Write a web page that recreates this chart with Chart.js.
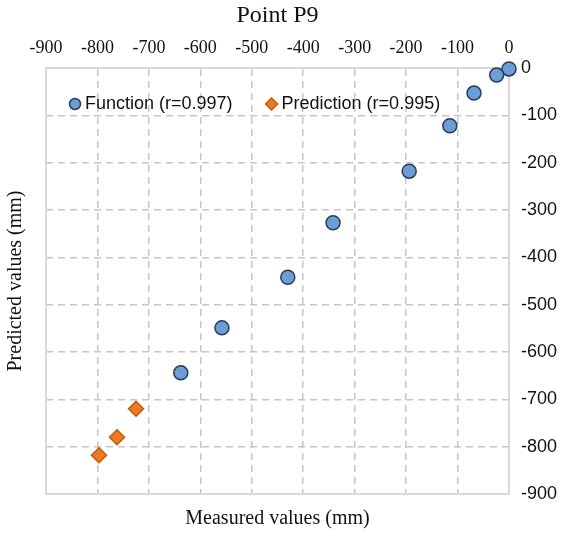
<!DOCTYPE html>
<html lang="en">
<head>
  <meta charset="UTF-8" />
  <title>Point P9</title>
  <script src="https://cdn.jsdelivr.net/npm/chart.js"></script>
  <style>
    html, body { margin: 0; padding: 0; background: #fff; }
    #wrap { width: 564px; height: 536px; }
  </style>
</head>
<body>
  <div id="wrap"><canvas id="p9Chart"></canvas></div>

  <script>
    // values (mm)
    const funcMeasured  = [0, -24, -68, -115, -194, -342, -430, -558, -638];
    const funcPredicted = [-2, -15, -53, -122, -218, -327, -442, -549, -644];
    const predMeasured  = [-725, -762, -797];
    const predPredicted = [-720, -780, -818];

    const xTickValues = [-900, -800, -700, -600, -500, -400, -300, -200, -100, 0];
    const yTickValues = [0, -100, -200, -300, -400, -500, -600, -700, -800, -900];

    const serif = 'Liberation Serif';
    const sans = 'Liberation Sans';
    const gridStyle = { color: '#c6c6c6', lineWidth: 1.5, drawTicks: false };
    const borderStyle = { display: true, color: '#d9d9d9', width: 2, dash: [7, 5] };

    const toPoints = (xs, ys) => xs.map((x, i) => ({ x: x, y: ys[i] }));

    // legend drawn inside the plot area, like the original
    const insideLegend = {
      id: 'insideLegend',
      afterDraw(chart) {
        const c = chart.ctx;
        const area = chart.chartArea;
        let x = area.left + 29;
        const y = area.top + 36;
        c.save();
        c.font = '18px ' + sans;
        c.textBaseline = 'middle';
        chart.data.datasets.forEach(ds => {
          c.fillStyle = ds.backgroundColor;
          c.strokeStyle = ds.borderColor;
          c.lineWidth = 1.5;
          c.beginPath();
          if (ds.pointStyle === 'rectRot') {
            const r = 6;
            c.moveTo(x - r, y); c.lineTo(x, y - r); c.lineTo(x + r, y); c.lineTo(x, y + r);
            c.closePath();
          } else {
            c.arc(x, y, 5.5, 0, Math.PI * 2);
          }
          c.fill();
          c.stroke();
          c.fillStyle = '#111';
          c.fillText(ds.label, x + 10, y);
          x += 10 + c.measureText(ds.label).width + 39;
        });
        c.restore();
      }
    };

    const ctx = document.getElementById('p9Chart').getContext('2d');
    new Chart(ctx, {
      type: 'scatter',
      data: {
        datasets: [
          {
            label: 'Function (r=0.997)',
            data: toPoints(funcMeasured, funcPredicted),
            pointStyle: 'circle',
            pointRadius: 7,
            backgroundColor: '#6b9dd6',
            borderColor: '#2b3c58',
            borderWidth: 1.5,
            clip: false
          },
          {
            label: 'Prediction (r=0.995)',
            data: toPoints(predMeasured, predPredicted),
            pointStyle: 'rectRot',
            pointRadius: 7.5,
            backgroundColor: '#ee7a22',
            borderColor: '#c5570f',
            borderWidth: 1.5,
            clip: false
          }
        ]
      },
      options: {
        responsive: true,
        maintainAspectRatio: false,
        animation: false,
        layout: { padding: 0 },
        plugins: {
          title: {
            display: true,
            fullSize: false,
            text: 'Point P9',
            color: '#111',
            font: { family: serif, size: 24, weight: 'normal', lineHeight: 1 },
            padding: { top: 4, bottom: 0 }
          },
          legend: { display: false },
          tooltip: { enabled: false }
        },
        scales: {
          x: {
            type: 'linear',
            position: 'top',
            min: -900,
            max: 0,
            afterBuildTicks: s => { s.ticks = xTickValues.map(v => ({ value: v })); },
            afterFit: s => { s.height = 40; },
            grid: gridStyle,
            border: borderStyle,
            ticks: { padding: 9, color: '#111', font: { family: serif, size: 18 } }
          },
          xTitle: {
            type: 'linear',
            position: 'bottom',
            afterFit: s => { s.height = 42; },
            grid: { display: false },
            border: borderStyle,
            ticks: { display: false },
            title: {
              display: true,
              text: 'Measured values (mm)',
              color: '#111',
              font: { family: serif, size: 20 },
              padding: { top: 0, bottom: 5 }
            }
          },
          y: {
            type: 'linear',
            position: 'right',
            min: -900,
            max: 0,
            afterBuildTicks: s => { s.ticks = yTickValues.map(v => ({ value: v })); },
            afterFit: s => { s.width = 55; },
            grid: gridStyle,
            border: borderStyle,
            ticks: { padding: 12, color: '#111', font: { family: sans, size: 18 } }
          },
          yTitle: {
            type: 'linear',
            position: 'left',
            afterFit: s => { s.width = 46; },
            grid: { display: false },
            border: borderStyle,
            ticks: { display: false },
            title: {
              display: true,
              text: 'Predicted values (mm)',
              color: '#111',
              font: { family: serif, size: 20 },
              padding: { top: 4, bottom: 0 }
            }
          }
        }
      },
      plugins: [insideLegend]
    });
  </script>
</body>
</html>
